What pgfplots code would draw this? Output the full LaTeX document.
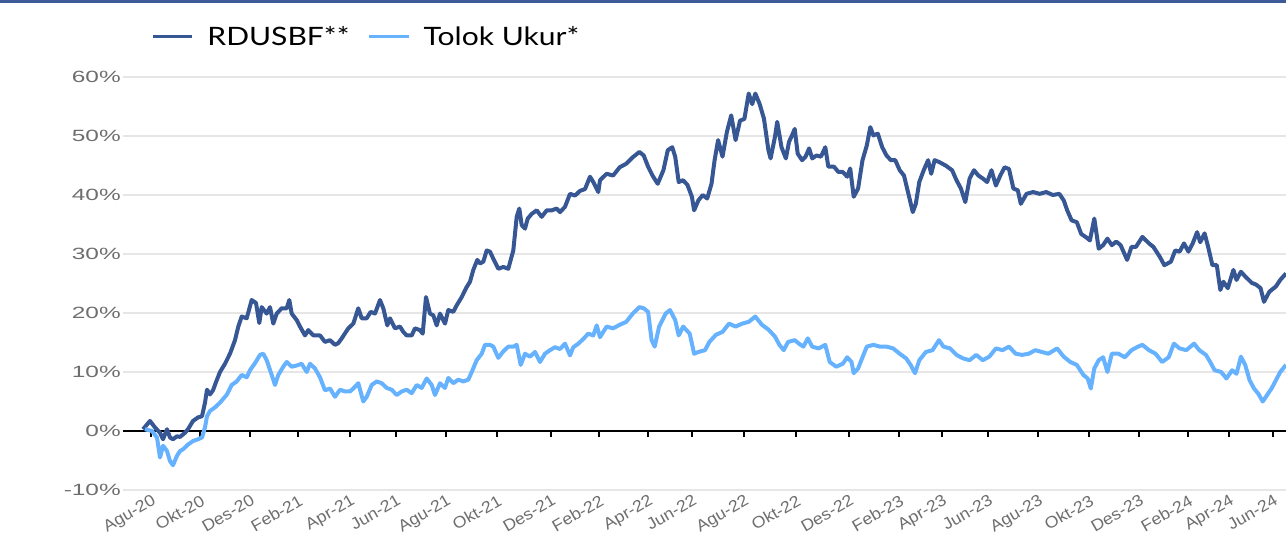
\documentclass[border=0pt]{standalone}
\usepackage{fontspec}
\setmainfont{Liberation Sans}
\newfontfamily\legfont{Lato}
\usepackage{pgfplots}
\pgfplotsset{compat=1.18}
\definecolor{darkser}{HTML}{365694}
\definecolor{lightser}{HTML}{66B2FF}
\definecolor{topbar}{HTML}{3D5A99}
\definecolor{gridc}{HTML}{E6E6E6}
\definecolor{tickc}{HTML}{6E6E6E}
\newcommand{\sx}[1]{\scalebox{1.5}[1]{#1}}
\newcommand{\tx}[1]{\scalebox{1.09}[1]{#1}}
\begin{document}
\begin{tikzpicture}
\path[use as bounding box] (0,0) rectangle (964.5pt,402pt);
\fill[topbar] (0,399.75pt) rectangle (964.5pt,402pt);
\begin{axis}[
  at={(92.25pt,34.5pt)}, anchor=south west,
  scale only axis, width=872.25pt, height=309.75pt,
  xmin=123, xmax=1286, ymin=-10, ymax=60,
  axis x line=middle, axis y line=left,
  axis line style={-},
  x axis line style={black, line width=1.5pt},
  y axis line style={draw=none},
  hide obscured x ticks=false, hide obscured y ticks=false,
  ytick={-10,0,10,20,30,40,50,60},
  yticklabels={\sx{-10\%},\sx{0\%},\sx{10\%},\sx{20\%},\sx{30\%},\sx{40\%},\sx{50\%},\sx{60\%}},
  ytick style={draw=none},
  ymajorgrids, grid style={gridc, line width=1.1pt},
  xtick={151,200,250,298,350,396,446,497,551,599,648,692,744,796,849,899,942,988,1038,1089,1139,1188,1229,1273},
  xticklabels={\tx{Agu-20},\tx{Okt-20},\tx{Des-20},\tx{Feb-21},\tx{Apr-21},\tx{Jun-21},\tx{Agu-21},\tx{Okt-21},\tx{Des-21},\tx{Feb-22},\tx{Apr-22},\tx{Jun-22},\tx{Agu-22},\tx{Okt-22},\tx{Des-22},\tx{Feb-23},\tx{Apr-23},\tx{Jun-23},\tx{Agu-23},\tx{Okt-23},\tx{Des-23},\tx{Feb-24},\tx{Apr-24},\tx{Jun-24}},
  xtick align=outside,
  major tick length=4.5pt,
  xtick style={black, line width=1.5pt},
  yticklabel style={font=\fontsize{12.2}{14}\selectfont, text=tickc, inner sep=0pt, anchor=east, xshift=0.75pt},
  xticklabel style={font=\fontsize{12.2}{14}\selectfont, text=tickc, inner sep=0pt, anchor=north east, yshift=-42.5pt, rotate=30},
  legend columns=2,
  legend style={draw=none, fill=none, inner sep=0pt, at={(0.0241,1.0976)}, anchor=west, column sep=0pt, nodes={inner sep=0pt}, font=\legfont\fontsize{19}{22}\selectfont,
    /tikz/every odd column/.append style={column sep=10pt},
    /tikz/every even column/.append style={column sep=13.5pt}},
  legend image code/.code={\draw[#1, line width=2.6pt] (0pt,0pt) -- (29.5pt,0pt);},
]
\addplot[darkser, line width=3pt, line join=round] coordinates {
(143,0.3)(150,1.7)(155,0.6)(160,-0.3)(163,-1.4)(167,0.3)(170,-1.1)(173,-1.4)(177,-0.9)(180,-1.0)(185,-0.3)(188,0.3)(193,1.7)(198,2.3)(202,2.5)(205,4.8)(207,7.0)(210,6.2)(213,6.9)(216.7,8.6)(220,10.0)(225,11.4)(230,13.1)(235,15.4)(238.3,17.7)(241.7,19.4)(246.7,19.1)(251.7,22.2)(256,21.7)(259.3,18.3)(261.7,21.0)(266.7,19.9)(270,21.0)(273.3,18.2)(276.7,19.9)(281.7,20.8)(286.7,20.8)(289.3,22.2)(291.7,19.9)(296.7,18.8)(300,17.7)(305,16.2)(308.3,17.1)(313.3,16.2)(320,16.2)(325,15.1)(330,15.4)(335,14.6)(338.3,14.9)(341.7,15.7)(348.3,17.4)(353.3,18.2)(358.3,20.8)(361.7,19.1)(366.7,19.1)(370.7,20.2)(375,19.9)(380,22.2)(383.3,20.8)(387.3,17.9)(390,19.1)(395,17.4)(400,17.7)(403.3,16.8)(406.7,16.2)(411.7,16.2)(415,17.4)(420,17.1)(422.7,16.5)(426,22.7)(430,19.9)(433.3,19.6)(436.7,17.9)(440,19.9)(445,18.2)(448.3,20.5)(453.3,20.2)(456.7,21.3)(461.7,22.7)(466.7,24.4)(470,25.3)(473.3,27.3)(477.3,29.0)(480,28.4)(483.3,28.7)(486.7,30.6)(490,30.4)(493.3,29.2)(498.3,27.5)(503.3,27.8)(508.3,27.5)(513.3,30.6)(516.7,36.3)(519.3,37.7)(521.7,34.9)(525,34.3)(527.7,36.0)(531.7,36.8)(536.7,37.4)(541.7,36.3)(546.7,37.4)(551.7,37.4)(556.7,37.7)(560,37.1)(565,38.0)(570,40.2)(575,39.9)(580,40.7)(585,41.0)(590,43.1)(593.3,42.2)(598.3,40.5)(600,42.5)
(606.6,43.6)(613.1,43.3)(619.7,44.7)(626.2,45.3)(632.8,46.4)(639.4,47.3)(643.7,46.7)(648.1,44.8)(652.5,43.3)(657.7,41.9)(663.4,44.2)(667.8,47.6)(672.2,48.1)(675.2,46.5)(678.7,42.2)(683.1,42.5)(687.5,41.7)(691.9,39.7)(694.1,37.4)(698.4,39.1)(702.8,40.0)(707.2,39.4)(711.5,41.9)(714.6,45.9)(718.1,49.3)(722.5,46.5)(726.9,50.7)(731.2,53.5)(735.6,49.3)(740,52.6)(744.4,52.9)(748.7,57.2)(752.2,55.4)(755.3,57.2)(759.7,55.4)(764,52.9)(768.4,47.6)(770.6,46.2)(775,49.9)(777.2,52.4)(781.5,48.1)(785.9,46.2)(789,49.0)(792.5,50.3)(794.7,51.2)(797.7,47.0)(802.1,45.9)(805.6,46.5)(809.1,47.9)(812.2,46.2)(816.5,46.7)(820.9,46.5)(825.3,48.1)(828.3,44.8)(834,44.8)(838.4,43.9)(842.8,43.9)(847.2,43.1)(850.2,44.5)(853.7,39.7)(858.1,41.1)(862.5,45.9)(866.8,48.4)(870.3,51.5)(873.4,50.1)(877.8,50.4)(882.2,48.1)(886.5,46.7)(890.9,45.9)(895.3,45.9)(899.7,44.2)(904,43.3)(908.4,40.2)(912.8,37.1)(915.8,38.5)(919.3,42.2)(923.7,44.2)(928.1,45.9)(931.2,43.6)(934.6,45.9)(939,45.6)(945.6,45.0)(952.1,44.2)(956.5,42.5)(960.9,41.1)(965.3,38.8)(969.6,42.8)(974,44.2)(978.4,43.3)(982.8,42.8)(987.1,42.2)(991.5,44.2)(995.9,41.6)(1000.3,43.3)(1004.6,44.7)(1009,44.4)(1013.4,41.1)(1017.8,40.8)(1020.8,38.5)(1026.5,40.2)(1033.1,40.5)(1039.6,40.2)(1046.2,40.5)(1052.8,40.0)(1059.3,40.2)(1063.7,39.1)(1067.2,37.4)(1071.6,35.7)(1076.8,35.4)(1081.2,33.4)(1086.4,32.8)(1089.9,32.3)(1094.3,36.0)(1098.7,30.9)(1103.1,31.5)(1107.4,32.6)(1111.8,31.5)(1116.2,32.1)(1120.6,31.5)(1127.1,29.0)(1131.5,31.2)(1135.9,31.2)(1142.4,32.9)(1149,31.8)(1153.4,31.2)(1159.9,29.5)(1164.3,28.1)(1170.9,28.7)(1175.2,30.6)(1179.6,30.4)(1184,31.8)(1188.4,30.4)(1192.7,31.8)(1197.1,33.7)(1200.2,32.0)(1204.6,33.5)(1208,31.3)(1212.4,28.1)(1216.8,28.1)(1220.3,23.9)(1223.4,25.3)(1227.8,24.2)(1233.4,27.3)(1236.5,25.6)(1240.9,27.0)(1245.2,26.2)(1251.8,25.1)(1256.2,24.8)(1260.6,24.2)(1264,21.9)(1269.3,23.6)(1275.9,24.5)(1280.2,25.6)(1286,26.7)
};
\addlegendentry{\scalebox{1.186}[1]{RDUSBF**}}
\addplot[lightser, line width=3pt, line join=round] coordinates {
(145,0.3)(152,0.0)(157,-1.1)(160,-4.5)(163,-2.5)(167,-3.4)(170,-5.1)(173,-5.8)(177,-4.2)(180,-3.4)(183,-3.1)(188,-2.3)(193,-1.7)(198,-1.4)(202,-1.1)(205,0.6)(207,2.5)(210,3.4)(215,4.0)(220,4.8)(227,6.2)(231.7,7.8)(236.7,8.4)(241.7,9.5)(246.7,9.1)(250,10.3)(255,11.5)(260,12.9)(263.3,13.1)(266.7,12.0)(271.7,9.5)(275,7.8)(278.3,9.5)(283.3,10.9)(286.7,11.7)(291.7,10.9)(296.7,11.1)(301.7,11.4)(306.7,10.0)(310,11.4)(315,10.6)(320,9.1)(325,6.9)(330,7.2)(335,5.8)(340,7.0)(345,6.7)(350,6.7)(353.3,7.2)(358.3,8.1)(363.3,5.0)(366.7,5.8)(371.7,7.8)(376.7,8.4)(381.7,8.1)(386.7,7.3)(391.7,7.0)(396.7,6.1)(401.7,6.7)(406.7,7.0)(411.7,6.4)(416.7,7.8)(421.7,7.3)(426.7,8.9)(431.7,7.8)(435,6.1)(440,8.1)(445,7.3)(448.3,9.0)(453.3,8.1)(458.3,8.7)(463.3,8.4)(468.3,8.7)(471.7,10.0)(476.7,12.0)(481.7,13.1)(485,14.6)(490,14.6)(493.3,14.3)(498.3,12.4)(503.3,13.5)(508.3,14.3)(513.3,14.3)(516.7,14.6)(520.7,11.2)(525,13.1)(530,12.6)(535,13.4)(540,11.7)(545,13.1)(550,13.7)(555,14.2)(560,13.9)(565,14.8)(570,12.8)(573.3,14.2)(578.3,14.8)(583.3,15.6)(588.3,16.5)(593.3,16.2)(596.7,17.9)(600,15.9)
(606.6,17.7)(613.1,17.4)(619.7,18.0)(626.2,18.5)(632.8,19.9)(639.4,21.0)(643.7,20.8)(648.1,20.2)(651.6,15.4)(654.7,14.3)(659.1,17.7)(665.6,19.9)(670,20.5)(675.2,18.8)(678.7,16.2)(683.1,17.7)(689.7,16.5)(694.1,13.1)(698.4,13.4)(705,13.7)(709.4,15.1)(715.9,16.3)(722.5,16.8)(729,18.2)(735.6,17.7)(742.2,18.2)(748.7,18.5)(755.3,19.4)(761.9,18.0)(768.4,17.2)(775,16.0)(779.4,14.6)(783.7,13.7)(788.1,15.1)(794.7,15.4)(799,14.8)(803.4,14.3)(807.8,15.7)(812.2,14.3)(818.7,14.0)(825.3,14.6)(829.7,11.7)(836.2,10.9)(842.8,11.4)(847.2,12.5)(851.5,11.7)(853.7,9.8)(858.1,10.6)(862.5,12.5)(866.8,14.3)(873.4,14.6)(880,14.3)(886.5,14.3)(893.1,14.0)(899.7,13.1)(906.2,12.3)(910.6,11.2)(915,9.8)(919.3,12.0)(925.9,13.4)(932.5,13.7)(939,15.4)(943.4,14.3)(950,14.0)(956.5,12.9)(963.1,12.3)(969.6,12.0)(976.2,12.9)(982.8,12.0)(989.3,12.6)(995.9,14.0)(1002.5,13.7)(1009,14.3)(1015.6,13.1)(1022.1,12.9)(1028.7,13.1)(1035.3,13.7)(1041.8,13.4)(1048.4,13.1)(1057.1,14.0)(1063.7,12.6)(1070.3,11.7)(1076.8,11.2)(1083.4,9.5)(1087.7,8.9)(1090.8,7.2)(1094.3,10.6)(1098.7,12.0)(1103.1,12.5)(1107.4,10.0)(1111.8,13.1)(1118.4,13.1)(1124.9,12.5)(1131.5,13.7)(1138,14.3)(1142.4,14.6)(1149,13.7)(1155.6,13.1)(1162.1,11.7)(1168.7,12.5)(1173.9,14.8)(1179.6,14.0)(1186.2,13.7)(1194.1,14.8)(1199.3,13.7)(1205.9,12.9)(1210.2,11.7)(1214.6,10.3)(1221.2,10.0)(1226.4,8.9)(1232.1,10.3)(1236.5,9.7)(1240.9,12.6)(1245.2,11.2)(1249.6,8.6)(1254,7.2)(1258.4,6.3)(1262.7,5.0)(1267.1,6.1)(1271.5,7.2)(1275.9,8.6)(1280.2,10.0)(1286,11.2)
};
\addlegendentry{\scalebox{1.186}[1]{Tolok Ukur*}}
\end{axis}
\end{tikzpicture}
\end{document}
